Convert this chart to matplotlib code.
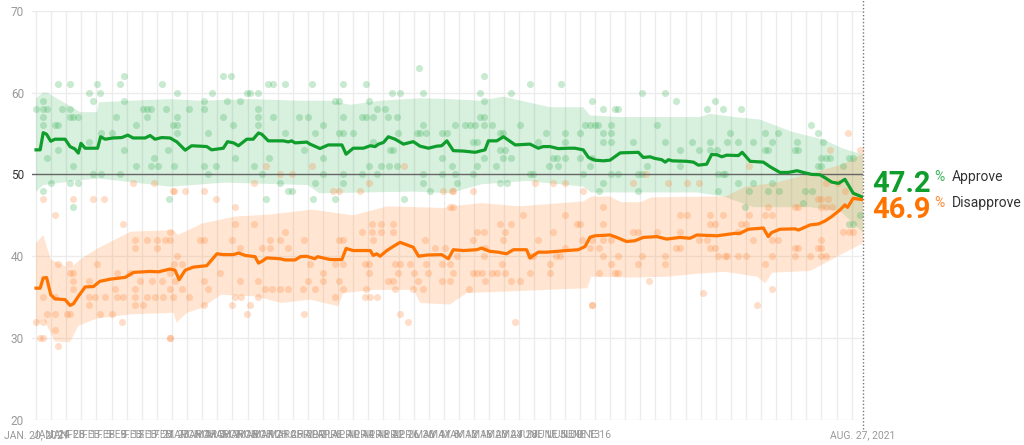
import datetime
import numpy as np
import matplotlib
matplotlib.use("Agg")
import matplotlib.pyplot as plt

plt.rcParams['font.family'] = ['Roboto', 'DejaVu Sans']

START = datetime.date(2021, 1, 20)
END_DAY = 219  # Aug. 27, 2021

# polling average lines (days since Jan. 20, 2021)
approve_day = [0, 1.1, 1.9, 2.8, 3.9, 5.0, 7.7, 9.0, 10.3, 11.2, 11.9, 13.0, 16.3, 17.1, 18.3, 20.4,
               22.7, 24.3, 25.7, 28.9, 30.2, 31.5, 33.3, 35.5, 37.3, 39.5, 41.2, 43.4, 45.2, 46.5,
               49.6, 50.7, 52.3, 53.6, 55.8, 57.5, 58.9, 59.8, 61.5, 65.5, 66.8, 67.7, 68.6, 71.7,
               72.6, 75.2, 77.4, 81.0, 82.1, 84.0, 86.7, 88.5, 89.8, 90.7, 92.0, 93.3, 95.1, 97.3,
               99.9, 101.7, 103.9, 106.1, 107.4, 108.8, 110.5, 113.2, 116.3, 118.0, 118.9, 119.8,
               122.0, 123.8, 126.9, 130.8, 133.0, 134.3, 136.1, 138.3, 141.0, 142.7, 144.9, 146.3,
               148.0, 150.2, 152.0, 154.7, 159.5, 160.8, 162.6, 163.9, 165.7, 166.6, 167.5, 168.4,
               172.3, 174.1, 175.4, 177.6, 178.9, 180.3, 181.6, 182.9, 186.0, 187.0, 189.1, 192.6,
               194.4, 197.0, 199.2, 201.5, 203.2, 205.4, 207.6, 208.9, 210.7, 212.5, 214.2, 216.4,
               217.7, 219]
approve = [53.0, 53.0, 55.1, 54.9, 54.05, 54.3, 54.3, 53.4, 53.1, 52.6, 53.8, 53.2, 53.2, 54.6, 54.3,
           54.45, 54.5, 54.8, 54.45, 54.45, 54.75, 54.3, 54.5, 54.45, 53.97, 52.96, 53.5, 53.45, 53.4,
           53.0, 53.2, 54.0, 53.85, 53.5, 54.3, 54.3, 55.06, 54.9, 54.1, 54.1, 53.97, 54.1, 53.85,
           53.95, 53.69, 53.16, 53.6, 53.6, 52.47, 53.2, 53.2, 53.5, 53.4, 53.7, 53.9, 54.6, 54.3,
           53.7, 54.0, 53.45, 53.2, 53.45, 53.5, 54.1, 52.9, 52.85, 52.7, 52.9, 53.0, 54.1, 54.1,
           54.6, 53.6, 53.7, 53.2, 53.4, 53.4, 53.15, 53.2, 53.2, 53.0, 52.07, 51.74, 51.66, 51.74,
           52.63, 52.7, 52.07, 52.15, 51.95, 51.8, 51.5, 51.8, 51.66, 51.6, 51.5, 51.13, 51.25,
           52.43, 52.4, 52.15, 52.35, 52.3, 52.7, 51.6, 51.5, 50.93, 50.24, 50.24, 50.45, 50.24,
           50.0, 49.96, 49.6, 49.06, 48.9, 49.4, 47.7, 47.45, 47.2]

disapprove_day = [0, 1.1, 1.9, 2.8, 3.9, 5.0, 7.7, 9.0, 9.9, 11.2, 13.0, 15.2, 16.9, 19.6, 23.6, 25.8,
                  30.2, 32.4, 35.5, 36.8, 37.9, 39.5, 41.7, 45.2, 47.9, 49.6, 52.3, 53.6, 55.4, 58.0,
                  58.9, 59.8, 61.1, 64.6, 66.0, 68.6, 70.0, 71.7, 73.8, 74.6, 77.9, 81.0, 82.1, 84.0,
                  88.5, 89.3, 90.2, 91.1, 92.9, 94.6, 96.4, 99.9, 101.3, 103.5, 107.4, 109.2, 110.5,
                  113.2, 116.7, 118.0, 120.2, 122.4, 124.6, 126.4, 129.9, 130.8, 133.0, 135.2, 137.9,
                  140.5, 143.6, 145.4, 146.7, 148.0, 152.0, 153.8, 156.4, 158.6, 160.8, 164.4, 167.0,
                  170.5, 173.2, 175.0, 180.3, 185.1, 186.4, 188.6, 192.6, 193.9, 194.8, 197.0, 201.0,
                  201.9, 205.0, 207.2, 208.9, 210.7, 212.9, 214.2, 214.9, 216.4, 219]
disapprove = [36.1, 36.1, 37.35, 37.4, 35.3, 34.8, 34.7, 34.0, 34.2, 35.1, 36.25, 36.3, 36.94, 37.2,
              37.42, 38.03, 38.15, 38.1, 38.44, 38.3, 37.14, 38.3, 38.68, 38.85, 40.3, 40.2, 40.2,
              40.4, 40.1, 39.95, 39.17, 39.38, 39.8, 39.7, 39.55, 39.55, 39.95, 40.0, 39.7, 39.95,
              39.6, 39.6, 40.95, 40.7, 40.7, 40.1, 40.3, 40.0, 40.7, 41.2, 41.7, 41.1, 40.0, 40.15,
              40.2, 39.7, 40.8, 40.7, 40.8, 41.0, 40.6, 40.5, 40.3, 40.8, 40.8, 39.8, 40.5, 40.5,
              40.6, 40.7, 40.8, 41.2, 42.33, 42.5, 42.6, 42.3, 41.8, 41.9, 42.3, 42.4, 42.1, 42.3,
              42.2, 42.6, 42.5, 42.8, 42.8, 43.3, 43.45, 42.4, 42.9, 43.3, 43.35, 43.2, 43.83, 43.95,
              44.3, 44.85, 45.66, 46.27, 45.97, 47.08, 46.9]

# uncertainty bands
approve_hi_day = [0, 1.9, 2.9, 11.7, 16.1, 16.7, 25, 35.5, 43.4, 56.7, 69.9, 77.9, 83.2, 91.1, 101.7,
                  109.6, 117.6, 123.7, 136.1, 144.9, 146.7, 154.7, 175.8, 178.5, 185.1, 191.7, 200.2,
                  208.9, 213.4, 217.7, 219]
approve_hi = [59.3, 60.0, 60.0, 57.6, 57.6, 58.8, 59.0, 59.2, 59.0, 59.2, 59.0, 59.0, 58.5, 59.0, 59.3,
              59.2, 59.0, 59.5, 58.2, 58.2, 57.2, 57.0, 57.0, 57.4, 57.0, 56.7, 55.2, 54.2, 53.2,
              52.6, 52.4]
approve_lo_day = [0, 1.9, 11.7, 16.7, 35.5, 50, 72, 75, 100, 109.6, 118, 130, 145, 147, 175, 182,
                  190, 205, 213, 219]
approve_lo = [47.9, 48.7, 49.3, 49.5, 48.5, 49.0, 48.7, 47.7, 47.9, 47.7, 48.8, 49.2, 48.5, 47.8, 47.8,
              47.3, 46.0, 46.0, 45.5, 42.9]
disapprove_hi_day = [0, 1.9, 3.9, 9, 11.7, 16.1, 25, 36.4, 37.6, 44, 52.7, 62, 73, 84, 93, 108, 110,
                     118, 128, 145, 147, 152, 155, 160, 163, 180, 182.5, 188, 196, 205, 214, 219]
disapprove_hi = [41.6, 42.6, 39.6, 38.5, 39.6, 40.9, 43.0, 43.2, 42.6, 44.0, 44.85, 45.1, 45.7, 45.0,
                 46.1, 45.9, 46.1, 46.5, 46.1, 46.7, 47.3, 47.3, 46.6, 46.6, 47.2, 47.3, 47.3, 48.5,
                 49.0, 50.1, 51.3, 52.6]
disapprove_lo_day = [0, 1.9, 3.9, 5, 9, 11.2, 16.1, 25, 36.4, 37.2, 40, 44, 49, 58, 65, 72.6, 80, 81.4,
                     90, 100, 101.7, 109.6, 114, 125, 146, 147, 158, 167, 176, 182.5, 191, 193.1, 195,
                     205, 214, 219]
disapprove_lo = [31.5, 32.4, 30.6, 29.6, 29.5, 31.5, 32.4, 32.9, 33.1, 31.9, 33.1, 33.7, 35.3, 35.1,
                 34.3, 34.7, 33.9, 35.5, 35.9, 35.9, 34.3, 34.1, 35.5, 35.7, 36.1, 37.5, 37.4, 37.5,
                 37.9, 38.1, 37.5, 36.7, 38.0, 38.2, 40.4, 41.6]

# individual polls (day, value)
approve_polls = [
    (0, 58), (1.9, 59), (1.9, 58), (1.9, 57), (1.9, 56), (1.9, 48), (2.8, 58), (2.8, 52), (3.9, 49),
    (5.0, 56), (5.9, 56), (5.9, 61), (5.9, 53), (7.0, 58), (9.0, 61), (9.0, 58), (9.0, 57), (9.0, 49),
    (9.9, 57), (9.9, 51), (9.9, 46), (11.2, 57), (11.0, 49), (14.1, 60), (15.0, 59), (14.0, 54),
    (15.2, 50), (16.9, 60), (16.1, 61), (17.2, 55), (17.2, 50), (20.0, 55), (21.2, 57), (22.2, 50),
    (22.2, 61), (23.3, 62), (23.3, 59), (23.3, 53), (26.5, 56), (26.5, 51), (28.4, 58), (29.3, 58),
    (29.3, 57), (30.4, 58), (30.4, 51), (31.2, 52), (32.4, 51), (33.3, 61), (34.3, 58), (35.3, 47),
    (36.4, 56), (35.0, 53),
    (37.4, 60), (37.3, 57), (37.3, 56), (37.3, 55), (36.5, 51), (40.6, 58), (44.5, 59), (44.5, 58),
    (45.6, 55), (44.5, 51), (45.6, 50), (46.5, 60), (47.6, 51), (49.6, 62), (51.6, 62), (49.4, 57),
    (50.7, 59), (52.1, 56), (52.7, 52), (54.0, 59), (55.8, 60), (56.7, 60), (58.9, 60), (58.9, 58),
    (58.9, 57), (58.9, 56), (57.7, 51), (59.8, 50), (61.5, 61), (62.8, 61), (62.8, 57), (61.6, 52),
    (65.9, 61), (65.9, 55), (64.6, 49), (66.8, 48), (67.7, 48), (69.7, 57), (72.1, 57), (73.0, 61),
    (71.0, 53), (61.0, 47),
    (81.2, 61), (87.3, 61), (94.2, 60), (96.4, 60), (101.4, 63), (102.6, 60), (79.2, 59), (80.1, 59),
    (81.2, 57), (88.3, 59), (86.2, 57), (87.3, 57), (90.2, 58), (92.4, 58), (89.3, 57), (93.3, 57),
    (95.5, 57), (76.1, 56), (73.9, 55), (80.1, 55), (81.2, 55), (84.0, 55), (95.9, 55), (100.8, 55),
    (101.7, 55), (103.4, 55), (107.4, 55), (108.7, 55), (102.6, 56), (89.2, 54), (93.7, 53),
    (94.4, 53), (76.1, 52), (107.4, 52), (88.3, 51), (91.3, 51), (93.6, 51), (95.5, 51), (76.1, 50),
    (81.2, 50), (86.2, 50), (90.2, 50), (102.6, 50), (107.4, 50), (73.9, 49), (81.2, 49), (102.6, 49),
    (104.3, 48), (73.3, 47), (79.2, 47), (97.4, 47),
    (118.6, 62), (117.7, 60), (118.6, 59), (130.8, 61), (139.0, 61), (125.9, 60), (147.1, 59),
    (111.0, 56), (113.6, 56), (114.9, 56), (116.2, 56), (117.7, 57), (118.6, 57), (118.6, 56),
    (120.7, 56), (122.9, 55), (123.6, 55), (128.2, 56), (135.0, 55), (140.1, 55), (144.0, 55),
    (145.4, 56), (115.6, 54), (116.7, 54), (133.0, 54), (140.1, 54), (122.9, 53), (124.2, 53),
    (118.6, 52), (125.9, 52), (123.7, 52), (137.0, 52), (138.0, 52), (140.1, 52), (144.0, 52),
    (110.1, 51), (116.7, 51), (121.9, 51), (135.9, 51), (138.3, 51), (111.0, 50), (115.6, 50),
    (130.8, 50), (131.7, 50), (144.9, 50), (111.4, 49), (122.9, 49), (124.8, 49),
    (150.2, 58), (153.3, 58), (154.2, 58), (160.4, 60), (166.5, 60), (169.5, 59), (177.6, 58),
    (179.8, 59), (181.8, 58), (164.5, 56), (146.7, 56), (148.0, 56), (148.9, 56), (152.2, 56),
    (150.2, 55), (152.2, 55), (150.2, 54), (152.2, 54), (158.2, 54), (166.5, 54), (173.6, 54),
    (178.6, 54), (182.9, 54), (170.5, 53), (175.6, 53), (178.6, 53), (180.2, 53), (147.1, 52),
    (146.7, 51), (161.7, 51), (170.5, 51), (152.2, 50), (154.2, 50), (159.5, 50), (160.4, 50),
    (180.7, 50), (181.8, 50), (150.2, 49), (149.2, 48), (159.5, 48), (180.7, 48),
    (186.7, 58), (183.8, 55), (186.0, 54), (189.9, 54), (193.0, 55), (194.8, 54), (193.0, 53),
    (193.9, 53), (196.6, 55), (201.4, 54), (201.9, 53), (201.0, 53), (205.2, 56), (207.1, 55),
    (208.3, 54), (208.0, 52), (209.3, 52), (210.2, 52), (207.1, 51), (208.0, 51), (213.8, 51),
    (215.3, 52), (216.4, 52), (182.4, 50), (186.0, 49), (189.9, 49), (194.8, 49), (188.8, 48),
    (193.9, 48), (196.7, 48), (203.6, 48), (205.6, 48), (187.7, 46), (215.3, 44), (216.4, 44),
    (218.2, 45), (203.2, 46.5),
]
disapprove_polls = [
    (1.9, 47), (9.9, 47), (15.0, 47), (18.0, 47), (5.0, 45), (23.1, 44), (25.8, 49), (31.2, 49),
    (36.4, 48), (5.9, 39), (8.6, 39), (9.0, 38), (9.9, 38), (9.9, 37), (9.9, 36), (14.1, 37),
    (16.1, 39), (0, 32), (1.9, 32), (1.9, 30), (1.9, 35), (2.8, 33), (5.0, 33), (5.0, 31), (1.1, 30),
    (5.9, 29), (8.1, 33), (9.0, 33), (5.0, 35), (13.9, 35), (15.6, 35), (18.3, 35), (21.4, 35),
    (23.1, 35), (26.2, 35), (29.3, 35), (31.5, 35), (33.7, 35), (36.4, 35), (13.9, 34), (16.9, 33),
    (20.0, 33), (22.7, 32), (26.2, 34), (28.4, 34), (26.2, 42), (29.3, 42), (32.0, 42), (34.2, 42),
    (32.0, 41), (26.2, 41), (21.4, 38), (24.9, 38), (27.5, 37), (30.6, 37), (33.3, 37), (35.5, 38),
    (35.5, 36), (35.5, 30), (26.2, 36), (20.9, 36),
    (36.5, 48), (39.4, 48), (44.5, 48), (47.6, 47), (52.7, 46), (57.7, 49), (61.0, 51), (64.6, 50),
    (67.9, 50), (73.0, 51), (35.5, 43), (35.5, 42), (37.2, 40), (43.4, 42), (44.5, 42), (36.5, 39),
    (38.6, 39), (52.7, 44), (51.8, 42), (54.0, 41), (57.7, 44), (59.8, 41), (62.0, 41), (62.0, 42),
    (65.9, 43), (64.6, 42), (66.8, 41), (71.0, 42), (38.6, 36), (40.6, 35), (44.5, 37), (45.6, 36),
    (48.7, 38), (54.0, 37), (58.9, 37), (60.6, 36), (62.4, 36), (64.6, 36), (66.8, 36), (70.8, 36),
    (72.1, 37), (44.5, 34), (51.8, 34), (52.7, 35), (54.4, 35), (56.7, 34), (58.9, 35), (55.8, 33),
    (71.0, 33), (35.5, 30), (36.8, 37),
    (97.4, 51), (88.3, 49), (78.7, 48), (80.1, 48), (85.8, 48), (107.9, 48), (110.1, 48), (110.5, 46),
    (89.1, 44), (91.3, 44), (94.4, 44), (86.2, 43), (89.1, 43), (91.3, 43), (94.4, 43), (80.1, 42),
    (81.2, 42), (89.3, 42), (103.0, 42), (105.6, 41), (108.3, 41), (72.6, 39), (79.2, 39), (81.2, 39),
    (87.1, 39), (88.3, 39), (95.0, 39), (96.4, 39), (99.0, 39), (103.4, 39), (107.4, 39), (76.1, 38),
    (88.3, 38), (95.9, 38), (100.1, 38), (103.9, 38), (76.1, 37), (80.1, 37), (93.3, 37), (94.4, 37),
    (101.2, 37), (107.4, 37), (81.4, 36), (87.4, 36), (95.0, 36), (99.9, 36), (102.6, 36), (73.9, 36),
    (79.2, 35), (87.1, 35), (88.4, 35), (90.2, 35), (96.4, 33), (98.4, 32),
    (110.5, 48), (115.8, 48), (132.1, 49), (137.0, 49), (140.1, 49), (144.9, 48), (109.6, 46),
    (128.9, 45), (140.1, 45), (122.9, 44), (125.8, 44), (143.2, 44), (144.0, 44), (116.7, 43),
    (118.6, 43), (137.0, 43), (124.2, 43), (115.6, 42), (123.7, 42), (133.0, 42), (144.5, 42),
    (111.4, 40), (118.6, 40), (130.8, 40), (131.7, 40), (137.7, 40), (138.7, 40), (140.1, 41),
    (118.9, 41), (109.6, 39), (110.5, 38), (115.8, 38), (116.7, 38), (118.0, 38), (120.7, 38),
    (122.0, 38), (123.3, 39), (124.2, 38), (130.8, 38), (136.1, 39), (136.1, 38), (109.6, 37),
    (118.9, 37), (125.9, 37), (128.2, 37), (114.7, 36), (126.8, 32), (147.1, 34),
    (161.5, 50), (158.2, 49), (167.4, 49), (172.5, 49), (175.6, 49), (150.2, 46), (170.5, 45),
    (172.5, 45), (178.6, 45), (181.8, 45), (150.2, 44), (178.6, 44), (179.8, 44), (158.2, 43),
    (159.5, 43), (164.5, 43), (170.5, 43), (150.2, 42), (152.2, 42), (169.5, 41), (170.5, 41),
    (175.6, 42), (177.6, 42), (178.6, 41), (179.8, 41), (146.7, 41), (147.1, 42), (149.2, 41),
    (150.2, 40), (154.2, 40), (160.4, 40), (166.5, 40), (152.2, 39), (159.5, 39), (166.5, 39),
    (153.3, 38), (154.2, 38), (149.2, 38), (180.7, 40), (182.9, 40), (162.4, 37), (176.7, 35.5),
    (147.1, 34),
    (215.1, 55), (218.2, 53), (210.2, 53), (188.8, 51), (209.3, 49), (212.4, 49), (214.2, 48),
    (207.1, 47), (208.0, 47), (209.6, 47), (193.9, 46), (201.0, 46), (201.9, 46), (208.0, 46),
    (209.3, 46), (210.7, 46), (188.8, 45), (193.0, 45), (194.8, 45), (186.7, 44), (187.9, 44),
    (186.0, 43), (189.9, 42), (194.8, 42), (196.6, 42), (208.0, 42), (207.1, 41), (208.0, 41),
    (201.0, 41), (201.9, 41), (213.8, 43), (215.3, 43), (216.4, 43), (182.4, 40), (186.0, 40),
    (187.9, 40), (194.8, 40), (201.0, 40), (205.0, 40), (208.0, 40), (209.3, 40), (193.0, 39),
    (194.8, 36), (190.9, 34),
]

grid_days = list(range(0, 217, 4))
label_days = list(range(0, 145, 4)) + [147]

MONTHS = {1: 'JAN.', 2: 'FEB.', 3: 'MARCH', 4: 'APRIL', 5: 'MAY', 6: 'JUNE', 7: 'JULY', 8: 'AUG.'}


def date_label(day, with_year=False):
    d = START + datetime.timedelta(days=int(day))
    s = f"{MONTHS[d.month]} {d.day}"
    return s + f", {d.year}" if with_year else s


GREEN = '#0f9d2c'
ORANGE = '#ff7400'

fig = plt.figure(figsize=(10.24, 4.45), dpi=100)
ax = fig.add_axes([0.0315, 0.0562, 0.8113, 0.9198])
ax.set_xlim(-1, END_DAY)
ax.set_ylim(20, 70)

for d in grid_days:
    ax.axvline(d, color='#ececec', lw=1, zorder=0)
for v in range(20, 71, 10):
    if v != 50:
        ax.axhline(v, color='#ececec', lw=1, zorder=0)

ax.fill(np.concatenate([approve_hi_day, approve_lo_day[::-1]]),
        np.concatenate([approve_hi, approve_lo[::-1]]),
        color='#3cb45a', alpha=0.2, lw=0, zorder=1)
ax.fill(np.concatenate([disapprove_hi_day, disapprove_lo_day[::-1]]),
        np.concatenate([disapprove_hi, disapprove_lo[::-1]]),
        color='#ff9a4d', alpha=0.25, lw=0, zorder=1)

ap = np.array(approve_polls)
dp = np.array(disapprove_polls)
ax.scatter(ap[:, 0], ap[:, 1], s=26, color='#3cb45a', alpha=0.28, lw=0, zorder=2)
ax.scatter(dp[:, 0], dp[:, 1], s=26, color='#ff8a3d', alpha=0.28, lw=0, zorder=2)

ax.axhline(50, color='#666666', lw=1, zorder=3)

ax.plot(approve_day, approve, color=GREEN, lw=2.3, zorder=4, solid_joinstyle='round')
ax.plot(disapprove_day, disapprove, color=ORANGE, lw=2.3, zorder=4, solid_joinstyle='round')

ax.axvline(END_DAY, ymin=-0.022, ymax=1.03, color='#777777', lw=1, ls=(0, (1, 1.5)),
           clip_on=False, zorder=5)

for s in ax.spines.values():
    s.set_visible(False)

ax.set_yticks(range(20, 71, 10))
ax.tick_params(axis='y', length=0, pad=6, labelsize=8.5, labelcolor='#999999')
for t in ax.get_yticklabels():
    if t.get_text() == '50':
        t.set_color('#333333')

ax.set_xticks(label_days + [END_DAY])
ax.set_xticklabels([date_label(d, d == 0) for d in label_days] + [date_label(END_DAY, True)])
ax.tick_params(axis='x', length=0, pad=7, labelsize=7.5, labelcolor='#999999')

# end labels
a_last, d_last = approve[-1], disapprove[-1]
ax.annotate(f"{a_last:.1f}", (END_DAY, a_last), xytext=(6.5, 4), textcoords='offset points',
            fontsize=21, fontweight='bold', color=GREEN, va='baseline', annotation_clip=False)
ax.annotate("%", (END_DAY, a_last), xytext=(51, 20), textcoords='offset points',
            fontsize=10, color='#3cb45a', va='top', annotation_clip=False)
ax.annotate("Approve", (END_DAY, a_last), xytext=(64, 12), textcoords='offset points',
            fontsize=10, color='#333333', va='baseline', annotation_clip=False)
ax.annotate(f"{d_last:.1f}", (END_DAY, d_last), xytext=(6.5, -13.3), textcoords='offset points',
            fontsize=21, fontweight='bold', color=ORANGE, va='baseline', annotation_clip=False)
ax.annotate("%", (END_DAY, d_last), xytext=(51, 2.5), textcoords='offset points',
            fontsize=10, color='#ff8c3a', va='top', annotation_clip=False)
ax.annotate("Disapprove", (END_DAY, d_last), xytext=(64, -5.4), textcoords='offset points',
            fontsize=10, color='#333333', va='baseline', annotation_clip=False)

fig.savefig('out.png', dpi=100)
